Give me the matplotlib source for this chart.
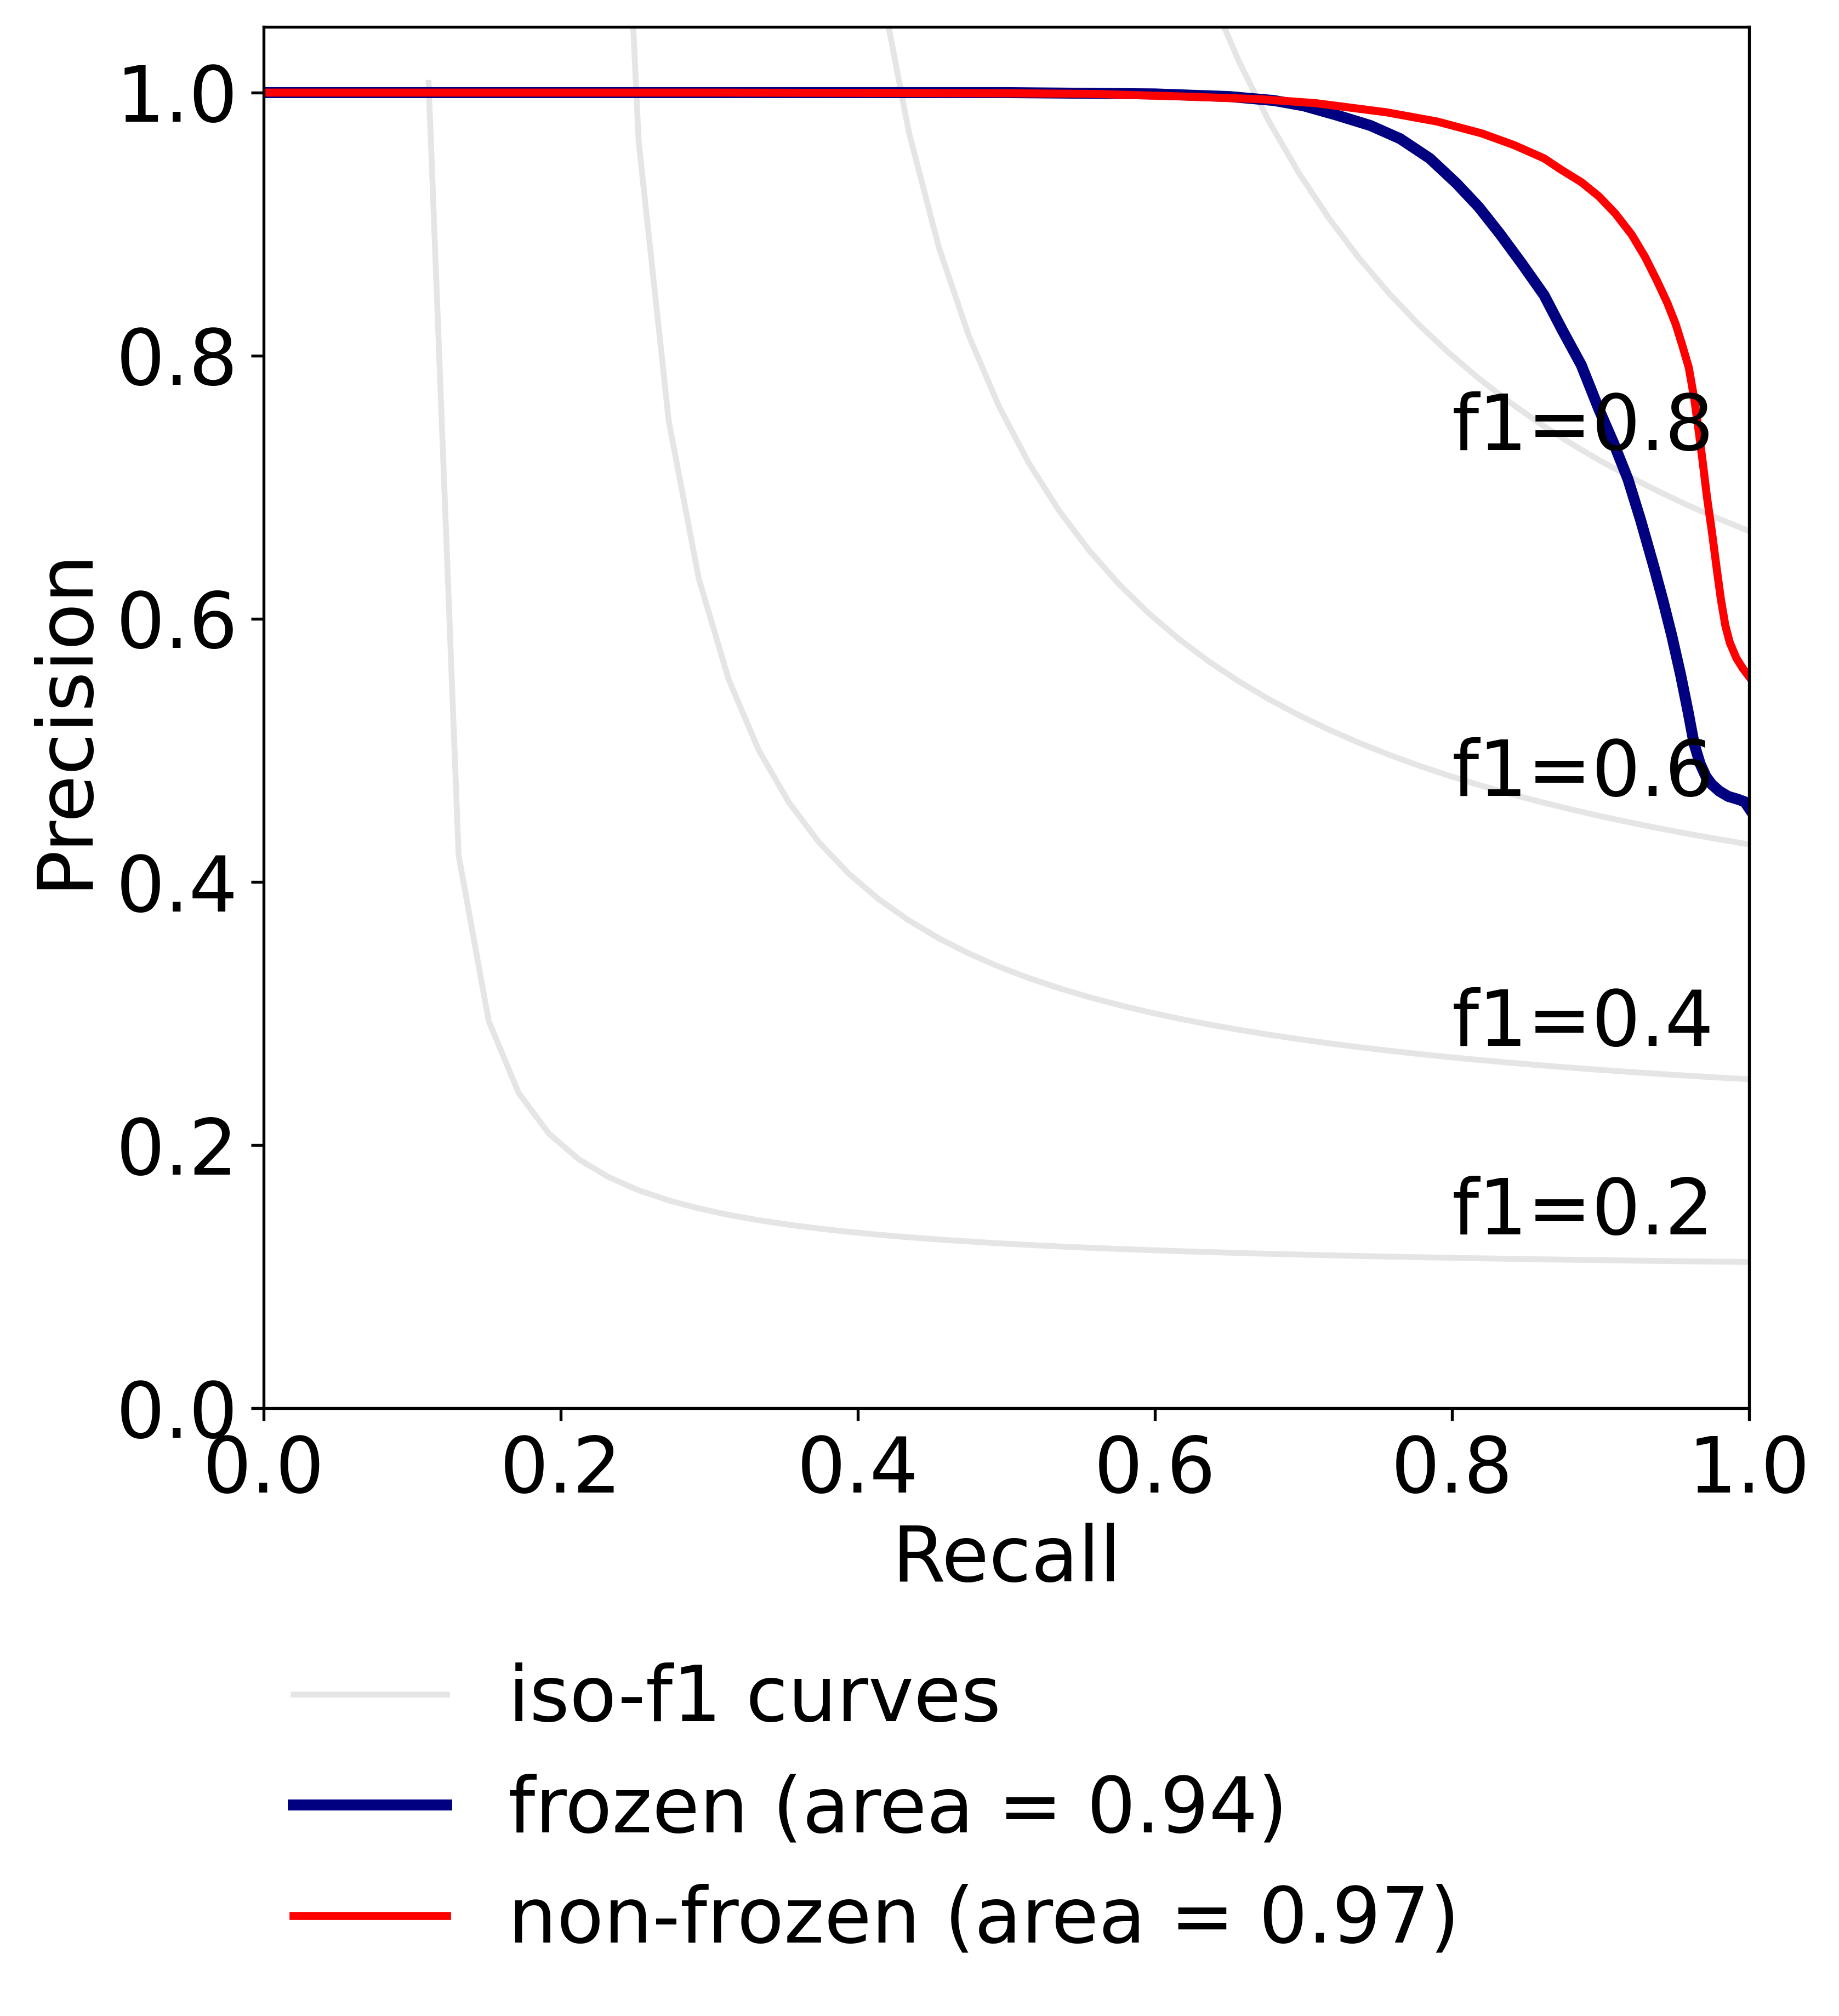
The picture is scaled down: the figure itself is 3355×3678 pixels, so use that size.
import numpy as np
import matplotlib
matplotlib.use("Agg")
import matplotlib.pyplot as plt

# ---- data ----
f_scores = [0.2, 0.4, 0.6, 0.8]

frozen_recall = [0.0, 0.3, 0.5, 0.6, 0.65, 0.68, 0.70, 0.722, 0.745, 0.765, 0.785,
                 0.803, 0.818, 0.832, 0.847, 0.862, 0.874, 0.887, 0.899, 0.909,
                 0.9185, 0.927, 0.9358, 0.942, 0.948, 0.954, 0.959, 0.963, 0.967,
                 0.971, 0.975, 0.980, 0.986, 0.992, 0.997, 1.0]
frozen_precision = [1.0, 1.0, 1.0, 0.999, 0.997, 0.994, 0.990, 0.983, 0.975, 0.965, 0.950,
                    0.931, 0.913, 0.893, 0.870, 0.846, 0.820, 0.793, 0.759, 0.733,
                    0.706, 0.675, 0.640, 0.614, 0.587, 0.557, 0.529, 0.505, 0.490,
                    0.480, 0.474, 0.469, 0.465, 0.463, 0.461, 0.456]

nonfrozen_recall = [0.0, 0.3, 0.5, 0.558, 0.62, 0.671, 0.708, 0.756, 0.790, 0.820,
                    0.842, 0.862, 0.874, 0.887, 0.899, 0.910, 0.921, 0.930, 0.938,
                    0.945, 0.9506, 0.955, 0.9594, 0.963, 0.9657, 0.9687, 0.9716,
                    0.975, 0.978, 0.981, 0.984, 0.987, 0.9915, 0.996, 1.0]
nonfrozen_precision = [1.0, 1.0, 0.9995, 0.999, 0.997, 0.995, 0.992, 0.985, 0.978, 0.969,
                       0.960, 0.950, 0.941, 0.932, 0.921, 0.908, 0.892, 0.875, 0.857,
                       0.840, 0.824, 0.808, 0.791, 0.768, 0.746, 0.720, 0.693,
                       0.666, 0.640, 0.615, 0.595, 0.582, 0.570, 0.562, 0.556]

labels = ['iso-f1 curves', 'frozen (area = 0.94)', 'non-frozen (area = 0.97)']

FS = 21
DPI = 480
fig = plt.figure(figsize=(3355 / DPI, 3678 / DPI), dpi=DPI)
ax = fig.add_axes([0.1434, 0.3015, 0.8077, 0.6852])

lines = []
for f_score in f_scores:
    x = np.linspace(0.01, 1)
    y = f_score * x / (2 * x - f_score)
    l, = ax.plot(x[y >= 0], y[y >= 0], color='gray', alpha=0.2, lw=1.6)
    ax.annotate('f1={0:0.1f}'.format(f_score), xy=(0.8, y[45] + 0.02), fontsize=FS)
lines.append(l)

l, = ax.plot(frozen_recall, frozen_precision, color='navy', lw=3)
lines.append(l)
l, = ax.plot(nonfrozen_recall, nonfrozen_precision, color='red', lw=2.2)
lines.append(l)

ax.set_xlim([0.0, 1.0])
ax.set_ylim([0.0, 1.05])
ax.set_xlabel('Recall', fontsize=FS)
ax.set_ylabel('Precision', fontsize=FS)
ax.tick_params(labelsize=FS)

fig.legend(lines, labels, loc='upper left', bbox_to_anchor=(0.1428, 0.1905),
           borderaxespad=0, frameon=False, fontsize=FS, labelspacing=0.47)

fig.savefig('out.png', dpi=DPI)
